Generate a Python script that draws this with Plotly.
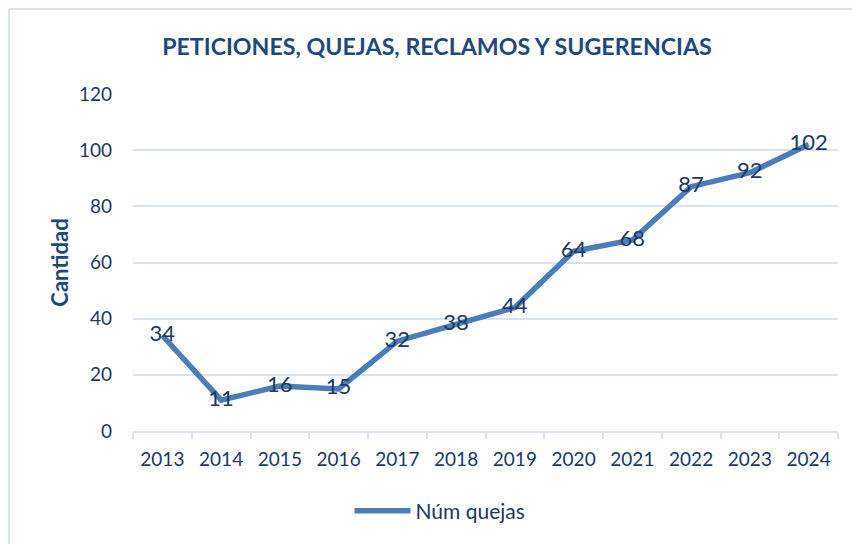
import plotly.graph_objects as go

years = ["2013", "2014", "2015", "2016", "2017", "2018", "2019", "2020", "2021", "2022", "2023", "2024"]
quejas = [34, 11, 16, 15, 32, 38, 44, 64, 68, 87, 92, 102]
series_name = "Núm quejas"
title_text = "PETICIONES, QUEJAS, RECLAMOS Y SUGERENCIAS"
y_title = "Cantidad"
y_ticks = [0, 20, 40, 60, 80, 100, 120]

dark = "#203864"
title_col = "#1F497D"
grid = "#D9E2F3"
line_col = "#4A7EBB"
font_fam = "Lato, sans-serif"

fig = go.Figure()
fig.add_trace(go.Scatter(
    x=years, y=quejas, mode="lines+text", name=series_name,
    line=dict(color=line_col, width=5.5),
    text=[str(v) for v in quejas], textposition="middle center",
    textfont=dict(size=22, color=dark, family=font_fam),
    cliponaxis=False,
))

fig.update_layout(
    width=852, height=544,
    margin=dict(l=133, r=14, t=94, b=111),
    paper_bgcolor="white", plot_bgcolor="white",
    title=dict(text="<b>" + title_text + "</b>", x=437 / 852, xanchor="center",
               y=1 - 47 / 544, yanchor="middle",
               font=dict(size=23.2, color=title_col, family=font_fam)),
    showlegend=True,
    legend=dict(orientation="h", x=0.5 + (440 - 485.5) / 705, xanchor="center", y=-0.238, yanchor="middle",
                font=dict(size=21, color=dark, family=font_fam), itemwidth=56),
    font=dict(family=font_fam, color=dark),
)
fig.update_xaxes(
    type="category", showgrid=False, showline=True, linecolor=grid, linewidth=1.5,
    ticks="outside", tickson="boundaries", ticklen=6, tickcolor=grid, tickwidth=1.5,
    tickfont=dict(size=19, color=dark, family=font_fam), ticklabelstandoff=10,
    range=[-0.5, 11.5],
)
fig.update_yaxes(
    range=[0, 120], tickvals=y_ticks, showgrid=True, gridcolor=grid, gridwidth=1.5,
    zeroline=False, showline=False, ticks="", ticklabelstandoff=20,
    tickfont=dict(size=19, color=dark, family=font_fam),
    title=dict(text="<b>" + y_title + "</b>", font=dict(size=22, color=title_col, family=font_fam), standoff=4),
)
# chart border (top & left edges visible)
fig.add_shape(type="line", xref="paper", yref="paper", x0=(9 - 133) / 705, x1=1.1, y0=(433 - 8.5) / 339, y1=(433 - 8.5) / 339,
              line=dict(color="#DAE3F3", width=2))
fig.add_shape(type="line", xref="paper", yref="paper", x0=(9 - 133) / 705, x1=(9 - 133) / 705, y0=(433 - 8.5) / 339, y1=-0.5,
              line=dict(color="#DAE3F3", width=2))

fig.write_html("out.html", config={"displayModeBar": False}, post_script="document.body.style.margin='0';")
